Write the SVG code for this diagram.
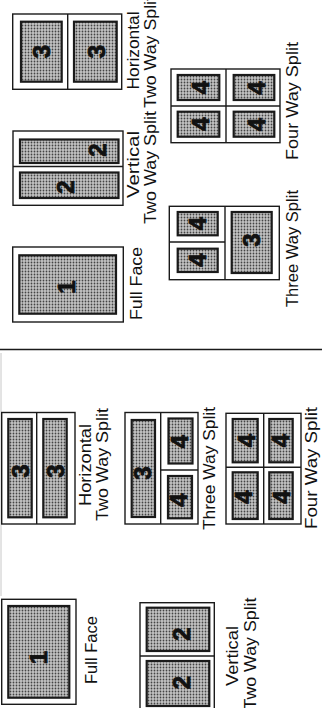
<svg xmlns="http://www.w3.org/2000/svg" width="322" height="708" viewBox="0 0 322 708">
<defs>
<pattern id="dots" width="3" height="3" patternUnits="userSpaceOnUse">
<rect width="3" height="3" fill="#c4c4c4"/>
<circle cx="1.5" cy="1.5" r="0.9" fill="#444"/>
</pattern>
</defs>
<style>
.bx{fill:#fff;stroke:#1a1a1a;stroke-width:1.4}
.dv{stroke:#1a1a1a;stroke-width:1.4;fill:none}
.pn{fill:url(#dots);stroke:#1a1a1a;stroke-width:2.2}
.dg{font-family:"Liberation Sans",Arial,sans-serif;font-weight:bold;font-size:24px;text-anchor:middle;fill:#111;stroke:#111;stroke-width:0.8}
.lb{font-family:"Liberation Sans",Arial,Helvetica,sans-serif;font-size:16px;fill:#111}
</style>
<rect width="322" height="708" fill="#fff"/>
<g id="lines">
<line x1="0" y1="349.5" x2="322" y2="349.5" stroke="#1a1a1a" stroke-width="1.6"/>
<line x1="1" y1="353" x2="1" y2="596" stroke="#c8c8c8" stroke-width="1"/>
</g>
<g id="h2-top">
<rect class="bx" x="12.7" y="14" width="109" height="75.3"/>
<line class="dv" x1="67.7" y1="14" x2="67.7" y2="89.3"/>
<rect class="pn" x="21" y="21.7" width="40.7" height="60"/>
<rect class="pn" x="74" y="21.7" width="42.7" height="60"/>
<text class="dg" transform="translate(41.5,51.7) rotate(-90)" dy="0.36em">3</text>
<text class="dg" transform="translate(96,51.7) rotate(-90)" dy="0.36em">3</text>
<text class="lb" transform="translate(139,89.5) rotate(-90)" textLength="78" lengthAdjust="spacingAndGlyphs">Horizontal</text>
<text class="lb" transform="translate(155.5,108) rotate(-90)" textLength="112" lengthAdjust="spacingAndGlyphs">Two Way Split</text>
</g>
<g id="v2-top">
<rect class="bx" x="13" y="131" width="110" height="74.3"/>
<line class="dv" x1="13" y1="166.5" x2="123" y2="166.5"/>
<rect class="pn" x="20" y="139.5" width="98.5" height="23.5"/>
<rect class="pn" x="20" y="172.5" width="98.5" height="25.5"/>
<text class="dg" transform="translate(97,150) rotate(-90)" dy="0.36em">2</text>
<text class="dg" transform="translate(65,187) rotate(-90)" dy="0.36em">2</text>
<text class="lb" transform="translate(139,198) rotate(-90)" textLength="67" lengthAdjust="spacingAndGlyphs">Vertical</text>
<text class="lb" transform="translate(155.5,224) rotate(-90)" textLength="113" lengthAdjust="spacingAndGlyphs">Two Way Split</text>
</g>
<g id="full-top">
<rect class="bx" x="12.7" y="247" width="110.6" height="75"/>
<rect class="pn" x="19.3" y="255.3" width="96.7" height="58.4"/>
<text class="dg" transform="translate(66,287) rotate(-90)" dy="0.36em">1</text>
<text class="lb" transform="translate(142,320) rotate(-90)" textLength="73" lengthAdjust="spacingAndGlyphs">Full Face</text>
</g>
<g id="four-top">
<rect class="bx" x="171" y="69" width="109" height="73.7"/>
<line class="dv" x1="226" y1="69" x2="226" y2="142.7"/>
<line class="dv" x1="171" y1="106" x2="280" y2="106"/>
<rect class="pn" x="177.7" y="75" width="41.6" height="25"/>
<rect class="pn" x="233.7" y="75" width="40.6" height="25"/>
<rect class="pn" x="177.7" y="111.7" width="41.6" height="25"/>
<rect class="pn" x="233.7" y="111.7" width="40.6" height="25"/>
<text class="dg" transform="translate(200,87.5) rotate(-90)" dy="0.36em">4</text>
<text class="dg" transform="translate(256,88) rotate(-90)" dy="0.36em">4</text>
<text class="dg" transform="translate(200,124) rotate(-90)" dy="0.36em">4</text>
<text class="dg" transform="translate(256,124.5) rotate(-90)" dy="0.36em">4</text>
<text class="lb" transform="translate(298,160) rotate(-90)" textLength="118" lengthAdjust="spacingAndGlyphs">Four Way Split</text>
</g>
<g id="three-top">
<rect class="bx" x="169.3" y="206.3" width="110" height="73.4"/>
<line class="dv" x1="225" y1="206.3" x2="225" y2="279.7"/>
<line class="dv" x1="169.3" y1="242" x2="225" y2="242"/>
<rect class="pn" x="177.7" y="212" width="40" height="23.3"/>
<rect class="pn" x="177.7" y="248.7" width="40" height="23.3"/>
<rect class="pn" x="231.7" y="212" width="40" height="61"/>
<text class="dg" transform="translate(197.7,223.7) rotate(-90)" dy="0.36em">4</text>
<text class="dg" transform="translate(197.7,260) rotate(-90)" dy="0.36em">4</text>
<text class="dg" transform="translate(251,240) rotate(-90)" dy="0.36em">3</text>
<text class="lb" transform="translate(298,307) rotate(-90)" textLength="117" lengthAdjust="spacingAndGlyphs">Three Way Split</text>
</g>
<g id="h2-bot">
<rect class="bx" x="1.7" y="412.5" width="73.3" height="111.5"/>
<line class="dv" x1="36.7" y1="412.5" x2="36.7" y2="524"/>
<rect class="pn" x="8.3" y="419" width="23.4" height="98.3"/>
<rect class="pn" x="43.3" y="419" width="23.4" height="98.3"/>
<text class="dg" transform="translate(20.5,471) rotate(-90)" dy="0.36em">3</text>
<text class="dg" transform="translate(55.5,471) rotate(-90)" dy="0.36em">3</text>
<text class="lb" transform="translate(90.5,506) rotate(-90)" textLength="82" lengthAdjust="spacingAndGlyphs">Horizontal</text>
<text class="lb" transform="translate(107.5,521) rotate(-90)" textLength="113" lengthAdjust="spacingAndGlyphs">Two Way Split</text>
</g>
<g id="three-bot">
<rect class="bx" x="125" y="412.5" width="73" height="111.5"/>
<line class="dv" x1="160.7" y1="412.5" x2="160.7" y2="524"/>
<line class="dv" x1="160.7" y1="470" x2="198" y2="470"/>
<rect class="pn" x="131.7" y="420" width="23.3" height="97"/>
<rect class="pn" x="168.5" y="418.5" width="24" height="45"/>
<rect class="pn" x="168" y="476" width="24" height="42.3"/>
<text class="dg" transform="translate(142,473) rotate(-90)" dy="0.36em">3</text>
<text class="dg" transform="translate(179,441.5) rotate(-90)" dy="0.36em">4</text>
<text class="dg" transform="translate(178,500) rotate(-90)" dy="0.36em">4</text>
<text class="lb" transform="translate(215,530) rotate(-90)" textLength="123" lengthAdjust="spacingAndGlyphs">Three Way Split</text>
</g>
<g id="four-bot">
<rect class="bx" x="226" y="413.3" width="75" height="110.7"/>
<line class="dv" x1="263.7" y1="413.3" x2="263.7" y2="524"/>
<line class="dv" x1="226" y1="467.3" x2="301" y2="467.3"/>
<rect class="pn" x="232.7" y="419" width="25" height="43.3"/>
<rect class="pn" x="269.3" y="419" width="23.4" height="43.3"/>
<rect class="pn" x="232.7" y="472.3" width="25" height="46.7"/>
<rect class="pn" x="269.3" y="472.3" width="23.4" height="46.7"/>
<text class="dg" transform="translate(246,440.7) rotate(-90)" dy="0.36em">4</text>
<text class="dg" transform="translate(280,440.7) rotate(-90)" dy="0.36em">4</text>
<text class="dg" transform="translate(243.5,497) rotate(-90)" dy="0.36em">4</text>
<text class="dg" transform="translate(281,497) rotate(-90)" dy="0.36em">4</text>
<text class="lb" transform="translate(316.5,529) rotate(-90)" textLength="122" lengthAdjust="spacingAndGlyphs">Four Way Split</text>
</g>
<g id="full-bot">
<rect class="bx" x="1.7" y="599.3" width="74.3" height="105"/>
<rect class="pn" x="8.3" y="606" width="61" height="91.7"/>
<text class="dg" transform="translate(38,657.7) rotate(-90)" dy="0.36em">1</text>
<text class="lb" transform="translate(96.5,684) rotate(-90)" textLength="68" lengthAdjust="spacingAndGlyphs">Full Face</text>
</g>
<g id="v2-bot">
<rect class="bx" x="140" y="602.7" width="74.3" height="110"/>
<line class="dv" x1="140" y1="656" x2="214.3" y2="656"/>
<rect class="pn" x="146.7" y="607.7" width="62.6" height="43.3"/>
<rect class="pn" x="146.7" y="661" width="62.6" height="45"/>
<text class="dg" transform="translate(181,634) rotate(-90)" dy="0.36em">2</text>
<text class="dg" transform="translate(181,682.5) rotate(-90)" dy="0.36em">2</text>
<text class="lb" transform="translate(238,686) rotate(-90)" textLength="60" lengthAdjust="spacingAndGlyphs">Vertical</text>
<text class="lb" transform="translate(256,709.5) rotate(-90)" textLength="112" lengthAdjust="spacingAndGlyphs">Two Way Split</text>
</g>
</svg>
